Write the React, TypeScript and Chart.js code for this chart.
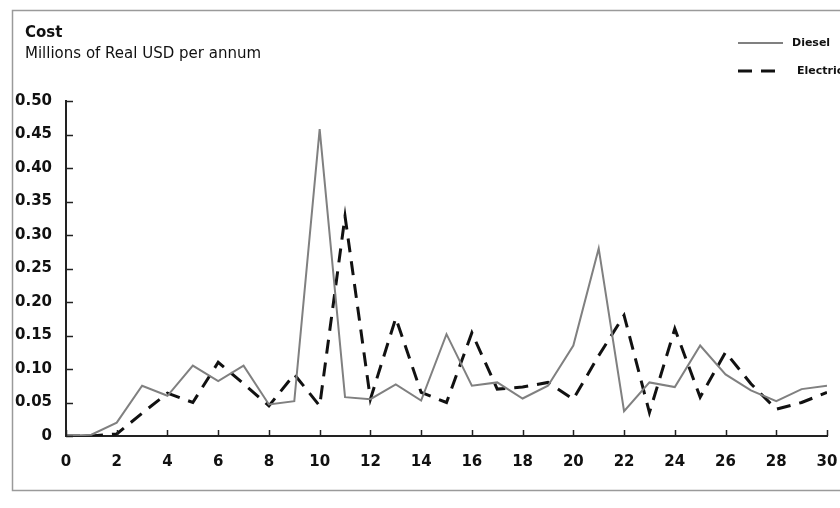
import React, { useEffect, useRef } from "react";
import { Chart, registerables } from "chart.js";

Chart.register(...registerables);

const years = [
  0, 1, 2, 3, 4, 5, 6, 7, 8, 9, 10, 11, 12, 13, 14, 15, 16, 17, 18, 19, 20,
  21, 22, 23, 24, 25, 26, 27, 28, 29, 30,
];
const diesel = [
  0, 0.002, 0.02, 0.075, 0.06, 0.105, 0.082, 0.105, 0.047, 0.052, 0.458,
  0.058, 0.055, 0.077, 0.053, 0.152, 0.075, 0.08, 0.056, 0.075, 0.135, 0.28,
  0.037, 0.08, 0.073, 0.135, 0.092, 0.068, 0.052, 0.07, 0.075,
];
const electric = [
  0, 0, 0.003, 0.034, 0.064, 0.05, 0.11, 0.078, 0.045, 0.092, 0.045, 0.328,
  0.055, 0.176, 0.065, 0.05, 0.154, 0.07, 0.073, 0.08, 0.055, 0.12, 0.18,
  0.035, 0.16, 0.058, 0.125, 0.078, 0.04, 0.05, 0.065,
];
const xTicks = [0, 2, 4, 6, 8, 10, 12, 14, 16, 18, 20, 22, 24, 26, 28, 30];
const yTicks = [0, 0.05, 0.1, 0.15, 0.2, 0.25, 0.3, 0.35, 0.4, 0.45, 0.5];
const titleText = "Cost";
const subtitleText = "Millions of Real USD per annum";
const seriesNames = ["Diesel", "Electric"];

const DIESEL_COLOR = "#808080";
const ELECTRIC_COLOR = "#111111";
const FONT = '"DejaVu Sans", sans-serif';

const decor = {
  id: "decor",
  beforeDraw(chart: any) {
    const { ctx, width, height } = chart;
    ctx.save();
    ctx.fillStyle = "#ffffff";
    ctx.fillRect(0, 0, width, height);
    ctx.strokeStyle = "#9a9a9a";
    ctx.lineWidth = 1.5;
    ctx.strokeRect(12.5, 10.5, 840, 480);
    ctx.restore();
  },
  afterDraw(chart: any) {
    const { ctx } = chart;
    const x = chart.scales.x;
    const y = chart.scales.y;
    ctx.save();
    ctx.strokeStyle = "#222";
    ctx.lineWidth = 1.5;
    yTicks.forEach((v) => {
      const py = Math.round(y.getPixelForValue(v)) + 0.5;
      ctx.beginPath();
      ctx.moveTo(x.left, py);
      ctx.lineTo(x.left + 7, py);
      ctx.stroke();
    });
    xTicks.forEach((v) => {
      const px = Math.round(x.getPixelForValue(v)) + 0.5;
      ctx.beginPath();
      ctx.moveTo(px, y.bottom);
      ctx.lineTo(px, y.bottom - 6);
      ctx.stroke();
    });

    // title
    ctx.fillStyle = "#111";
    ctx.textBaseline = "middle";
    ctx.textAlign = "left";
    ctx.font = `bold 15px ${FONT}`;
    ctx.fillText(titleText, 25, 33);
    ctx.font = `15px ${FONT}`;
    ctx.fillText(subtitleText, 25, 54);

    // legend
    const ds = chart.data.datasets;
    const rows = [43, 71];
    const textX = [792, 797];
    ds.forEach((d: any, i: number) => {
      const ly = rows[i];
      ctx.strokeStyle = d.borderColor;
      ctx.lineWidth = d.borderWidth;
      ctx.setLineDash(d.borderDash || []);
      ctx.beginPath();
      ctx.moveTo(738, ly);
      ctx.lineTo(783, ly);
      ctx.stroke();
      ctx.setLineDash([]);
      ctx.fillStyle = "#111";
      ctx.font = `bold 11px ${FONT}`;
      ctx.fillText(d.label, textX[i], ly);
    });
    ctx.restore();
  },
};

export default function App() {
  const ref = useRef<HTMLCanvasElement | null>(null);
  useEffect(() => {
    if (!ref.current) return;
    const chart = new Chart(ref.current, {
      type: "line",
      data: {
        datasets: [
          {
            label: seriesNames[0],
            data: years.map((yr, i) => ({ x: yr, y: diesel[i] })),
            borderColor: DIESEL_COLOR,
            borderWidth: 2,
            pointRadius: 0,
            tension: 0,
            fill: false,
          },
          {
            label: seriesNames[1],
            data: years.map((yr, i) => ({ x: yr, y: electric[i] })),
            borderColor: ELECTRIC_COLOR,
            borderWidth: 3,
            borderDash: [14, 9],
            pointRadius: 0,
            tension: 0,
            fill: false,
          },
        ],
      },
      options: {
        responsive: false,
        animation: false,
        layout: { padding: { top: 101, right: 13, left: 0, bottom: 0 } },
        plugins: {
          legend: { display: false },
          tooltip: { enabled: false },
          title: { display: false },
        },
        scales: {
          x: {
            type: "linear",
            min: 0,
            max: 30,
            afterFit: (s: any) => {
              s.height = 72;
              s.paddingRight = 0;
              s.paddingLeft = 0;
            },
            afterBuildTicks: (s: any) => {
              s.ticks = xTicks.map((v) => ({ value: v }));
            },
            ticks: {
              color: "#111",
              font: { family: FONT, size: 15, weight: "bold" },
              padding: 9,
              maxRotation: 0,
              autoSkip: false,
            },
            grid: { display: false },
            border: { display: true, color: "#222", width: 2 },
          },
          y: {
            min: 0,
            max: 0.5,
            afterFit: (s: any) => {
              s.width = 66;
              s.paddingTop = 0;
              s.paddingBottom = 0;
            },
            afterBuildTicks: (s: any) => {
              s.ticks = yTicks.map((v) => ({ value: v }));
            },
            ticks: {
              color: "#111",
              font: { family: FONT, size: 15, weight: "bold" },
              padding: 6,
              callback: (v: any) => (Number(v) === 0 ? "0" : Number(v).toFixed(2)),
            },
            grid: { display: false },
            border: { display: true, color: "#222", width: 2 },
          },
        },
      },
      plugins: [decor],
    });
    return () => chart.destroy();
  }, []);
  return (
    <div style={{ position: "absolute", left: 0, top: 0, width: 840, height: 508 }}>
      <canvas ref={ref} width={840} height={508} />
    </div>
  );
}
